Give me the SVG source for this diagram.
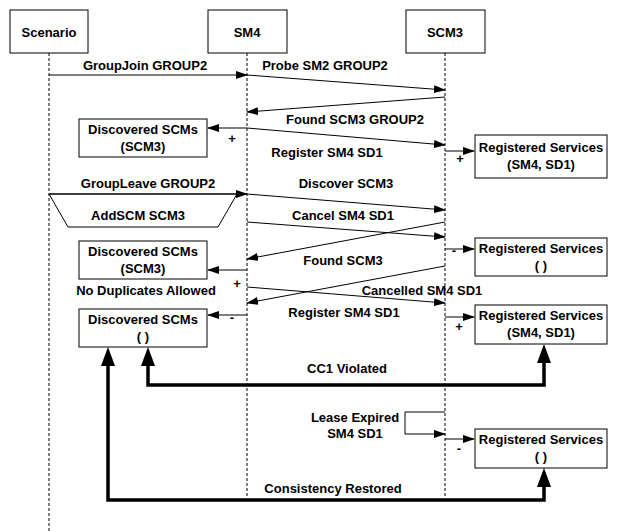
<svg xmlns="http://www.w3.org/2000/svg" width="618" height="531" viewBox="0 0 618 531">
<style>
text{font-family:"Liberation Sans",Arial,sans-serif;font-weight:bold;font-size:13px;fill:#000;text-anchor:middle}
.box{fill:#fff;stroke:#000;stroke-width:1}
.life{stroke:#000;stroke-width:1;stroke-dasharray:3,2;fill:none}
.msg{stroke:#000;stroke-width:1;fill:none;marker-end:url(#ah)}
.thick{stroke:#000;stroke-width:3.5;fill:none}
</style>
<defs>
<marker id="ah" markerUnits="userSpaceOnUse" markerWidth="12" markerHeight="8" refX="11" refY="4" orient="auto">
<path d="M0,0 L12,4 L0,8 Z" fill="#000"/>
</marker>
</defs>
<rect width="618" height="531" fill="#fff"/>
<g id="lifelines">
<line class="life" x1="49" y1="53" x2="49" y2="531"/>
<line class="life" x1="247" y1="53" x2="247" y2="498"/>
<line class="life" x1="445" y1="53" x2="445" y2="498"/>
</g>
<g id="scenario"><rect class="box" x="10" y="10" width="78" height="43"/><text x="49" y="37">Scenario</text></g>
<g id="sm4"><rect class="box" x="208" y="10" width="79" height="43"/><text x="247" y="37">SM4</text></g>
<g id="scm3"><rect class="box" x="406" y="10" width="79" height="43"/><text x="445" y="37">SCM3</text></g>
<g id="addscm"><polygon class="box" points="49,194 237,194 218,227 68,227"/><text x="138" y="220">AddSCM SCM3</text></g>
<g id="disc1"><rect class="box" x="79" y="119" width="128" height="38"/><text x="143" y="134">Discovered SCMs</text><text x="143" y="151">(SCM3)</text></g>
<g id="disc2"><rect class="box" x="79" y="241" width="128" height="38"/><text x="143" y="256">Discovered SCMs</text><text x="143" y="273">(SCM3)</text></g>
<g id="disc3"><rect class="box" x="79" y="309" width="128" height="38"/><text x="143" y="324">Discovered SCMs</text><text x="143" y="341">( )</text></g>
<g id="reg1"><rect class="box" x="475" y="135" width="132" height="43"/><text x="541" y="152">Registered Services</text><text x="541" y="169">(SM4, SD1)</text></g>
<g id="reg2"><rect class="box" x="475" y="238" width="132" height="38"/><text x="541" y="253">Registered Services</text><text x="541" y="270">( )</text></g>
<g id="reg3"><rect class="box" x="475" y="305" width="132" height="39"/><text x="541" y="320">Registered Services</text><text x="541" y="337">(SM4, SD1)</text></g>
<g id="reg4"><rect class="box" x="475" y="429" width="132" height="39"/><text x="541" y="444">Registered Services</text><text x="541" y="461">( )</text></g>
<g id="connectors">
<line class="msg" x1="49" y1="75" x2="247" y2="75"/>
<line class="msg" x1="247" y1="75" x2="445" y2="90"/>
<line class="msg" x1="445" y1="97" x2="247" y2="112"/>
<line class="msg" x1="247" y1="128" x2="208" y2="128"/>
<line class="msg" x1="247" y1="128" x2="445" y2="145"/>
<line class="msg" x1="445" y1="151" x2="474" y2="151"/>
<line class="msg" x1="49" y1="194" x2="247" y2="194"/>
<line class="msg" x1="247" y1="194" x2="445" y2="210"/>
<line class="msg" x1="247" y1="222" x2="445" y2="237"/>
<line class="msg" x1="445" y1="222" x2="247" y2="259"/>
<line class="msg" x1="445" y1="249" x2="474" y2="249"/>
<line class="msg" x1="247" y1="270" x2="208" y2="270"/>
<line class="msg" x1="445" y1="266" x2="247" y2="303"/>
<line class="msg" x1="247" y1="287" x2="445" y2="303"/>
<line class="msg" x1="247" y1="315" x2="208" y2="315"/>
<line class="msg" x1="445" y1="317" x2="474" y2="317"/>
<polyline class="msg" points="445,412 405,412 405,434 445,434"/>
<line class="msg" x1="445" y1="439" x2="474" y2="439"/>
<polyline class="thick" points="148,365 148,385 544,385 544,362"/>
<polygon points="148,347 141,366 155,366" fill="#000"/>
<polygon points="544,344 537,363 551,363" fill="#000"/>
<polyline class="thick" points="108,365 108,500 544,500 544,486"/>
<polygon points="108,347 101,366 115,366" fill="#000"/>
<polygon points="544,468 537,487 551,487" fill="#000"/>
</g>
<g id="labels">
<text x="145" y="70">GroupJoin GROUP2</text>
<text x="325" y="70">Probe SM2 GROUP2</text>
<text x="355" y="124">Found SCM3 GROUP2</text>
<text x="327" y="157">Register SM4 SD1</text>
<text x="148" y="188">GroupLeave GROUP2</text>
<text x="346" y="188">Discover SCM3</text>
<text x="343" y="220">Cancel SM4 SD1</text>
<text x="343" y="265">Found SCM3</text>
<text x="146" y="295">No Duplicates Allowed</text>
<text x="422" y="295">Cancelled SM4 SD1</text>
<text x="344" y="317">Register SM4 SD1</text>
<text x="347" y="373">CC1 Violated</text>
<text x="355" y="422">Lease Expired</text>
<text x="355" y="438">SM4 SD1</text>
<text x="333" y="493">Consistency Restored</text>
<text x="232" y="143">+</text>
<text x="460" y="163">+</text>
<text x="454" y="255">-</text>
<text x="237" y="288">+</text>
<text x="232" y="322">-</text>
<text x="459" y="331">+</text>
<text x="459" y="453">-</text>
</g>
</svg>
